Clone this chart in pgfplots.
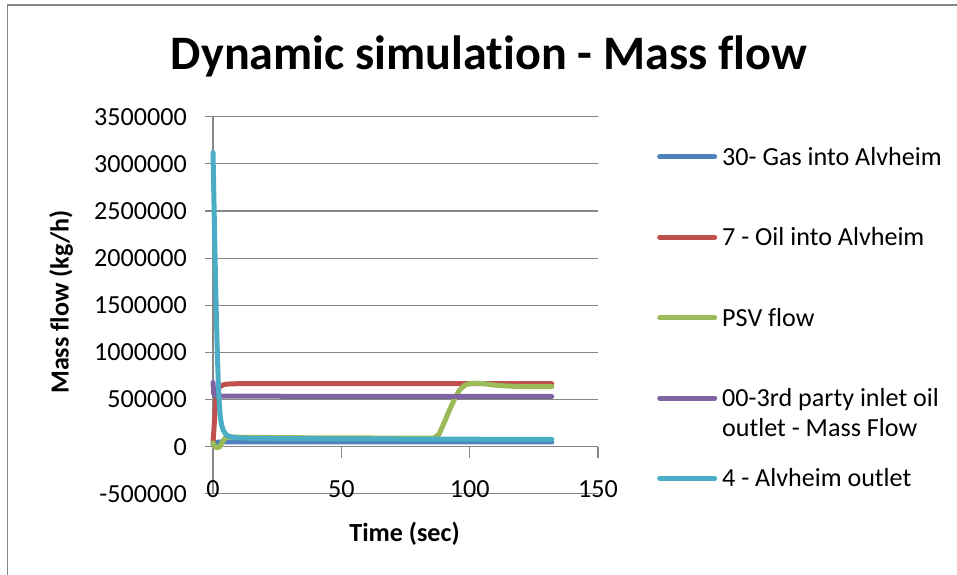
\documentclass[border=0pt]{standalone}
\usepackage{pgfplots}
\pgfplotsset{compat=1.18}
\usepackage{fontspec}
\setmainfont{Carlito}[Ligatures={NoCommon}]
\definecolor{sblue}{HTML}{4F81BD}
\definecolor{sred}{HTML}{C0504D}
\definecolor{sgreen}{HTML}{9BBB59}
\definecolor{spurple}{HTML}{8064A2}
\definecolor{scyan}{HTML}{4BACC6}
\definecolor{gridgray}{HTML}{868686}
\begin{document}
\begin{tikzpicture}[x=1bp,y=1bp]
\path[use as bounding box] (0,0) rectangle (957,575);
\draw[gridgray, line width=1.5bp] (7.3,0) -- (7.3,570) -- (957,570);
\node[font=\fontsize{48.3}{55}\bfseries\selectfont, anchor=base, inner sep=0pt] at (489,505) {Dynamic simulation - Mass flow};
\begin{axis}[
  at={(213bp,81.2bp)}, anchor=south west,
  scale only axis, width=385bp, height=377.1bp,
  xmin=0, xmax=150, ymin=-500000, ymax=3500000,
  clip=false,
  axis lines*=left,
  axis line style={gridgray, line width=1.2bp},
  xtick={0,50,100,150}, xticklabels={0,50,100,150},
  ytick={-500000,0,500000,1000000,1500000,2000000,2500000,3000000,3500000},
  yticklabels={-500000,0,500000,1000000,1500000,2000000,2500000,3000000,3500000},
  scaled y ticks=false,
  ymajorgrids, grid style={gridgray, line width=1.2bp},
  tick align=outside, major tick length=8bp,
  xtick style={draw=none},
  ytick style={gridgray, line width=1.2bp},
  tick label style={font=\fontsize{26.2}{30}\selectfont, inner sep=0pt},
  yticklabel style={anchor=east, xshift=-18bp},
  xticklabel style={anchor=base, yshift=4.5bp},
  xlabel={Time (sec)}, ylabel={Mass flow (kg/h)},
  label style={font=\fontsize{26.2}{30}\bfseries\selectfont, inner sep=0pt},
  xlabel style={at={(axis description cs:0.4974,-0.1278)}, anchor=base},
  ylabel style={at={(axis description cs:-0.375,0.5086)}, anchor=base},
  legend style={at={(axis description cs:1.1532,0.9247)}, anchor=north west,
    draw=none, fill=none, inner sep=0pt, row sep=54.4bp, column sep=5bp,
    font=\fontsize{26.2}{30}\selectfont,
    nodes={inner sep=0pt, text height=20bp, text depth=6bp},
    cells={anchor=base west}},
  legend image code/.code={\draw[#1, line width=5bp, line cap=round] (0bp,8.4bp) -- (55bp,8.4bp);},
]
\addplot[gridgray, line width=1.2bp, forget plot] coordinates {(50,0) (50,-123000)};
\addplot[gridgray, line width=1.2bp, forget plot] coordinates {(100,0) (100,-123000)};
\addplot[gridgray, line width=1.2bp, forget plot] coordinates {(150,0) (150,-123000)};

\addplot[sblue, line width=5bp, line join=round, line cap=round] coordinates {
(0,20000) (0.5,30000) (1,40000) (2,48000) (3,50000) (5,51000) (20,51000) (60,50000) (100,50000) (132,50000)};
\addlegendentry{30- Gas into Alvheim}

\addplot[sred, line width=5bp, line join=round, line cap=round] coordinates {
(0,40000) (0.4,200000) (0.8,380000) (1.2,500000) (1.6,570000) (2,610000) (2.5,630000) (3,642000) (4,655000) (5,662000) (7,666000) (10,668000) (60,668000) (132,668000)};
\addlegendentry{7 - Oil into Alvheim}

\addplot[sgreen, line width=5bp, line join=round, line cap=round] coordinates {
(0,40000) (0.5,10000) (1.5,-12000) (2.5,-5000) (3.5,40000) (4.5,85000) (6,100000) (10,100000) (30,95000) (60,92000) (86,90000) (88,130000) (90,250000) (92,380000) (94,500000) (96,600000) (98,650000) (100,668000) (102,673000) (105,670000) (110,652000) (115,642000) (120,638000) (132,637000)};
\addlegendentry{PSV flow}

\addplot[spurple, line width=5bp, line join=round, line cap=round] coordinates {
(0,680000) (0.3,560000) (1,537000) (10,535000) (60,534000) (132,533000)};
\addlegendentry{{\begin{tabular}[t]{@{}l@{}}00-3rd party inlet oil\\outlet - Mass Flow\end{tabular}}}

\addplot[scyan, line width=5bp, line join=round, line cap=round] coordinates {
(0,3120000) (0.3,2700000) (0.6,2280000) (0.9,1880000) (1.2,1500000) (1.5,1180000) (1.8,900000) (2.1,650000) (2.4,480000) (2.7,360000) (3,280000) (3.5,215000) (4,172000) (5,130000) (6,112000) (8,99000) (10,93000) (15,88000) (30,85000) (60,82000) (90,80000) (110,78000) (132,76000)};
\addlegendentry{4 - Alvheim outlet}
\end{axis}
\end{tikzpicture}
\end{document}
